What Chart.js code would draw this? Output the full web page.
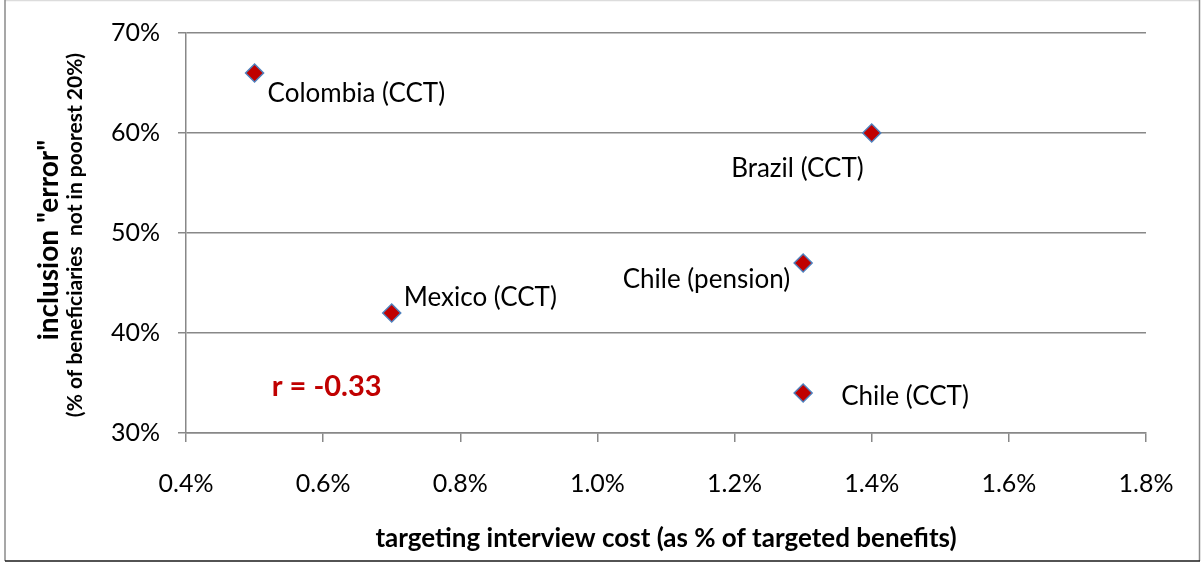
<!DOCTYPE html>
<html>
<head>
<meta charset="utf-8">
<script src="https://cdn.jsdelivr.net/npm/chart.js@4"></script>
<style>
  html, body { margin: 0; padding: 0; background: #fff; }
  #wrap { width: 1203px; height: 563px; }
</style>
</head>
<body>
<div id="wrap"><canvas id="scatterChart" width="1203" height="563"></canvas></div>
<script>
// data
const programs = ['Colombia (CCT)', 'Brazil (CCT)', 'Chile (pension)', 'Mexico (CCT)', 'Chile (CCT)'];
const interviewCost = [0.5, 1.4, 1.3, 0.7, 1.3];      // % of targeted benefits
const inclusionError = [66, 60, 47, 42, 34];          // % of beneficiaries not in poorest 20%
const xRange = [0.4, 1.8, 0.2];
const yRange = [30, 70, 10];
const correlation = 'r = -0.33';

const FONT = 'Lato, "Open Sans", sans-serif';

const pointLabels = {
    id: 'pointLabels',
    afterDatasetsDraw(chart, args, opts) {
        const ctx = chart.ctx;
        const meta = chart.getDatasetMeta(0);
        ctx.save();
        ctx.font = opts.font;
        ctx.fillStyle = '#000';
        ctx.textBaseline = 'middle';
        meta.data.forEach((pt, i) => {
            const o = opts.offsets[i];
            ctx.textAlign = o.align;
            ctx.fillText(programs[i], pt.x + o.dx, pt.y + o.dy);
        });
        // correlation note
        const xs = chart.scales.x, ys = chart.scales.y;
        ctx.font = opts.noteFont;
        ctx.fillStyle = '#c00000';
        ctx.textAlign = 'left';
        ctx.fillText(correlation, xs.getPixelForValue(opts.noteAt[0]), ys.getPixelForValue(opts.noteAt[1]));
        ctx.restore();
    }
};

const frameAndTitles = {
    id: 'frameAndTitles',
    beforeDraw(chart) {
        const ctx = chart.ctx;
        ctx.save();
        ctx.fillStyle = '#fff';
        ctx.fillRect(0, 0, chart.width, chart.height);
        ctx.restore();
    },
    afterDraw(chart) {
        const ctx = chart.ctx, a = chart.chartArea;
        ctx.save();
        // outer frame
        ctx.lineWidth = 1.5;
        ctx.strokeStyle = '#dcdcdc';
        ctx.beginPath(); ctx.moveTo(5, 0.5); ctx.lineTo(1199, 0.5); ctx.stroke();
        ctx.strokeStyle = '#8a8a8a';
        ctx.beginPath(); ctx.moveTo(5, 0); ctx.lineTo(5, 561); ctx.stroke();
        ctx.beginPath(); ctx.moveTo(1199.5, 0); ctx.lineTo(1199.5, 561); ctx.stroke();
        ctx.strokeStyle = '#1a1a1a';
        ctx.beginPath(); ctx.moveTo(5, 561); ctx.lineTo(1200, 561); ctx.stroke();

        // axis titles
        ctx.fillStyle = '#000';
        ctx.textAlign = 'center';
        ctx.textBaseline = 'middle';
        ctx.font = 'bold 26px ' + FONT;
        ctx.fillText('targeting interview cost (as % of targeted benefits)', (a.left + a.right) / 2, 539);

        ctx.translate(49, 240);
        ctx.rotate(-Math.PI / 2);
        ctx.font = 'bold 28px ' + FONT;
        ctx.fillText('inclusion "error"', 0, 0);
        ctx.font = 'bold 21px ' + FONT;
        ctx.fillText('(% of beneficiaries  not in poorest 20%)', 5, 26);
        ctx.restore();
    }
};

new Chart(document.getElementById('scatterChart'), {
    type: 'scatter',
    data: {
        datasets: [{
            data: interviewCost.map((x, i) => ({ x: x, y: inclusionError[i] })),
            pointStyle: 'rectRot',
            pointRadius: 9,
            pointHoverRadius: 9,
            backgroundColor: '#c00000',
            borderColor: '#4f81bd',
            borderWidth: 1.5
        }]
    },
    options: {
        responsive: false,
        devicePixelRatio: 1,
        animation: false,
        layout: { padding: { top: 29, right: 57, left: 0, bottom: 0 } },
        plugins: {
            legend: { display: false },
            tooltip: { enabled: false },
            pointLabels: {
                font: '26px ' + FONT,
                noteFont: 'bold 29px ' + FONT,
                noteAt: [0.525, 34.6],
                offsets: [
                    { align: 'left', dx: 13, dy: 21 },
                    { align: 'right', dx: -8, dy: 36 },
                    { align: 'right', dx: -13, dy: 17 },
                    { align: 'left', dx: 12, dy: -15 },
                    { align: 'left', dx: 38, dy: 4 }
                ]
            }
        },
        scales: {
            x: {
                type: 'linear',
                min: xRange[0], max: xRange[1],
                afterFit: s => { s.height = 130; },
                ticks: {
                    stepSize: xRange[2],
                    padding: 27,
                    color: '#000',
                    font: { family: FONT, size: 25 },
                    callback: v => v.toFixed(1) + '%'
                },
                grid: { drawOnChartArea: false, drawTicks: true, tickLength: 9, color: '#888', lineWidth: 1.5 },
                border: { color: '#888', width: 1.5 }
            },
            y: {
                type: 'linear',
                min: yRange[0], max: yRange[1],
                afterFit: s => { s.width = 186; },
                ticks: {
                    stepSize: yRange[2],
                    padding: 18,
                    color: '#000',
                    font: { family: FONT, size: 25 },
                    callback: v => v + '%'
                },
                grid: { color: '#888', lineWidth: 1.5, tickLength: 8 },
                border: { color: '#888', width: 1.5 }
            }
        }
    },
    plugins: [frameAndTitles, pointLabels]
});
</script>
</body>
</html>
